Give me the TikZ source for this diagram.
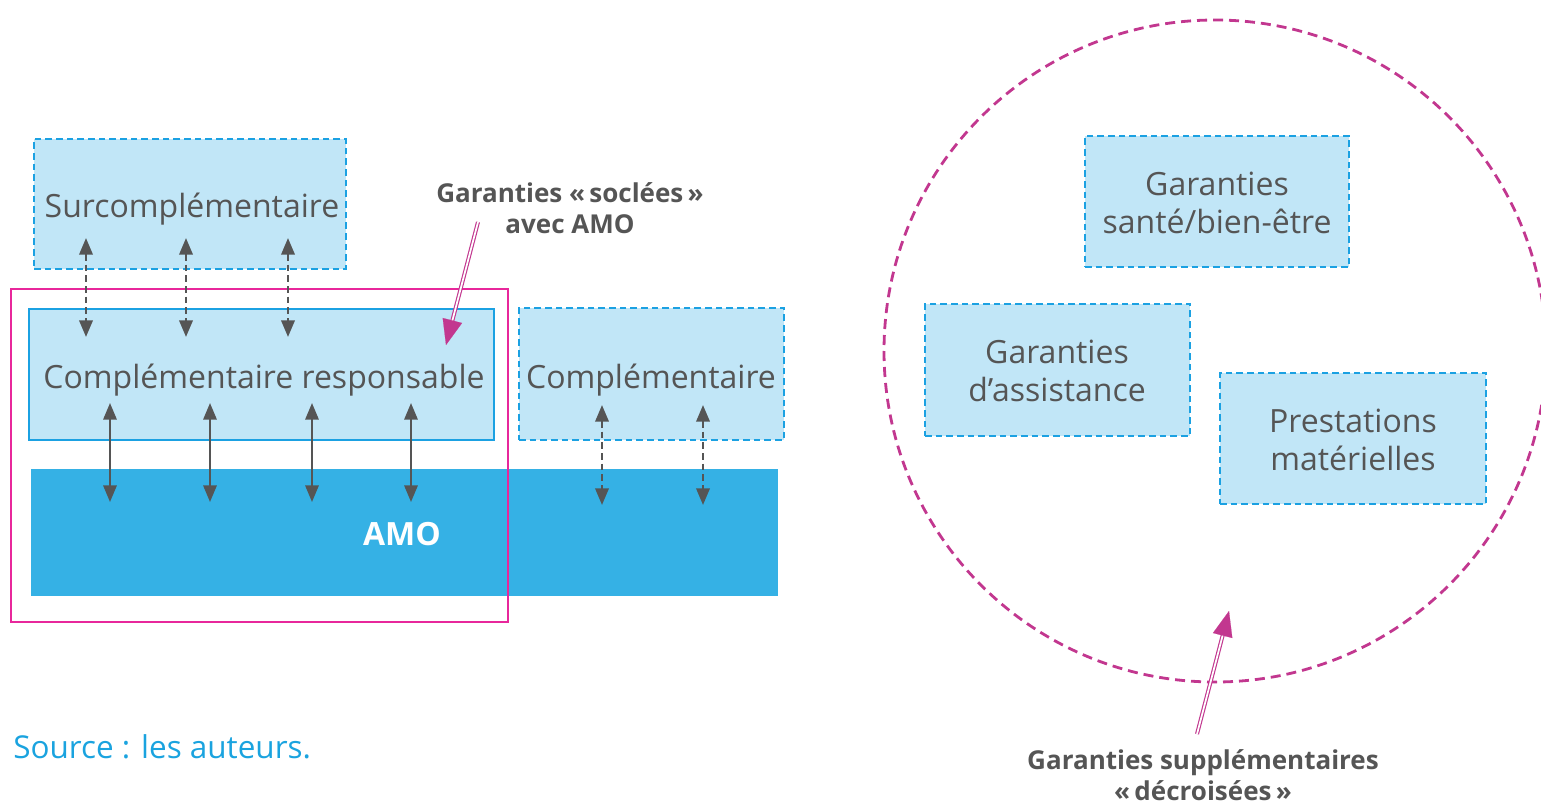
\documentclass[tikz,border=0pt]{standalone}
\usepackage{fontspec}
\setmainfont{Open Sans}
\usetikzlibrary{arrows.meta,fit,calc}
\definecolor{lightB}{HTML}{C1E6F7}
\definecolor{cyanB}{HTML}{1BA1E2}
\definecolor{amoB}{HTML}{35B1E5}
\definecolor{pinkR}{HTML}{E8279B}
\definecolor{magA}{HTML}{C2378F}
\definecolor{grayT}{HTML}{555555}
\definecolor{srcB}{HTML}{1AA3DF}
\begin{document}
\begin{tikzpicture}[x=0.75pt,y=-0.75pt,
  mainf/.style={font=\fontsize{24}{28}\selectfont, text=grayT, align=center, inner sep=0pt},
  dbox/.style={draw=cyanB, fill=lightB, line width=2pt, dash pattern=on 5pt off 3pt, inner sep=0pt},
  sbox/.style={draw=cyanB, fill=lightB, line width=2pt, inner sep=0pt},
  tipG/.style={{Triangle[length=12.5pt,width=10pt]}-{Triangle[length=12.5pt,width=10pt]}},
  sarr/.style={draw=grayT, line width=1.7pt, tipG},
  darr/.style={draw=grayT, line width=1.9pt, dash pattern=on 5pt off 3pt, tipG},
  blabel/.style={font=\bfseries\fontsize{19.5}{23.5}\selectfont, text=grayT, align=center, inner sep=0pt},
  dshaft/.style={draw=magA, line width=0.85pt, double=white, double distance=1.3pt},
  dhead/.style={draw=magA, line width=0.1pt, -{Triangle[length=19pt,width=15pt]}}
]
\useasboundingbox (0,0) rectangle (1541,804);

% left part
\node[dbox, fit={(34,139) (346,269)}] (sur) {};
\node[mainf] (surt) at (192,209) {Surcompl\'ementaire};
\node[sbox, fit={(29,309) (494,440)}] (resp) {};
\node[mainf] (respt) at (264,380) {Compl\'ementaire responsable};
\node[dbox, fit={(519,308) (784,440)}] (comp) {};
\node[mainf] (compt) at (651,380) {Compl\'ementaire};
\node[fill=amoB, inner sep=0pt, fit={(31,469) (778,596)}] (amo) {};
\node[font=\bfseries\fontsize{24}{28}\selectfont, text=white, inner sep=0pt] (amot) at (402,534) {AMO};
\node[draw=pinkR, line width=2.2pt, inner sep=0pt, fit={(11,289) (508,622)}] (socle) {};

% arrows Sur <-> responsable
\foreach \i/\x in {1/86,2/186,3/288}{
  \coordinate (sa\i) at (\x,238);
  \coordinate (sb\i) at (\x,337);
  \draw[darr] (sa\i) -- (sb\i);
}
% arrows responsable <-> AMO
\foreach \i/\x in {1/110,2/210,3/312,4/411}{
  \coordinate (ra\i) at (\x,403);
  \coordinate (rb\i) at (\x,502);
  \draw[sarr] (ra\i) -- (rb\i);
}
% arrows complementaire <-> AMO
\foreach \i/\x in {1/602,2/703}{
  \coordinate (ca\i) at (\x,405);
  \coordinate (cb\i) at (\x,505);
  \draw[darr] (ca\i) -- (cb\i);
}

% label socle
\node[blabel] (lsocle) at (570,208) {Garanties «\,soclées\,»\\avec AMO};
\coordinate (t1) at (478,222);
\coordinate (h1) at (446,345);
\draw[dshaft] (t1) -- ($(h1)!17pt!(t1)$);
\draw[dhead] ($(h1)!19pt!(t1)$) -- (h1);

% right part
\node[circle, draw=magA, line width=2.1pt, dash pattern=on 7.5pt off 4.5pt, minimum size=496.5pt, inner sep=0pt] (ring) at (1215,351) {};
\node[dbox, fit={(1085,136) (1349,267)}] (sante) {};
\node[mainf] (santet) at (1217,203) {Garanties\\sant\'e/bien-\^etre};
\node[dbox, fit={(925,304) (1190,436)}] (assist) {};
\node[mainf] (assistt) at (1057,371) {Garanties\\d’assistance};
\node[dbox, fit={(1220,373) (1486,504)}] (prest) {};
\node[mainf] (prestt) at (1353,440) {Prestations\\mat\'erielles};

\node[blabel] (lsup) at (1203,775) {Garanties supplémentaires\\«\,décroisées\,»};
\coordinate (t2) at (1197,734);
\coordinate (h2) at (1229,611);
\draw[dshaft] (t2) -- ($(h2)!17pt!(t2)$);
\draw[dhead] ($(h2)!19pt!(t2)$) -- (h2);

% source
\node[anchor=west, inner sep=0pt, text=srcB, font=\fontsize{23.6}{28}\selectfont] (src) at (13,747) {Source : les auteurs.};
\end{tikzpicture}
\end{document}
